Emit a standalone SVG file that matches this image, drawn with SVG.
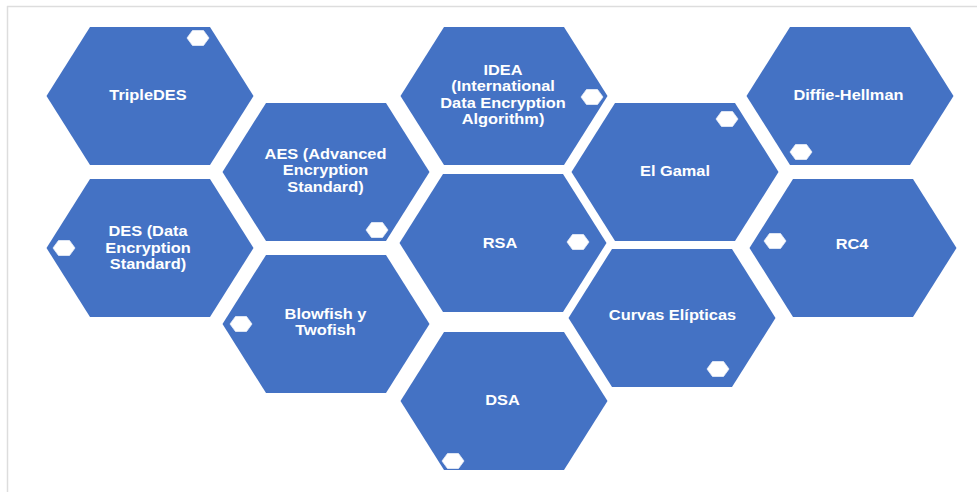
<svg xmlns="http://www.w3.org/2000/svg" xmlns:xlink="http://www.w3.org/1999/xlink" width="977" height="492" viewBox="0 0 977 492">
  <style>
    .hex { fill: #4472C4; }
    .dot { fill: #FFFFFF; stroke: #E8EDF7; stroke-width: 0.8; }
    .t { font-family: "Liberation Sans", Arial, sans-serif; font-weight: bold; font-size: 14px; fill: #FFFFFF; text-anchor: middle; }
    .frame { stroke: #DDDDDD; stroke-width: 1.5; fill: none; }
  </style>
  <defs>
    <polygon id="hex" points="-103.5,0 -60,-69 60,-69 103.5,0 60,69 -60,69"/>
    <polygon id="dot" points="-11,0 -5.5,-7.5 5.5,-7.5 11,0 5.5,7.5 -5.5,7.5"/>
  </defs>
  <rect x="0" y="0" width="977" height="492" fill="#FFFFFF"/>
  <g id="frame">
    <line class="frame" x1="7" y1="6.5" x2="977" y2="6.5"/>
    <line class="frame" x1="7.5" y1="6" x2="7.5" y2="492"/>
  </g>
  <g id="connectors"/>

  <g id="tripledes">
    <use href="#hex" class="hex" x="150" y="96"/>
    <use href="#dot" class="dot" x="198" y="38"/>
    <text class="t" transform="translate(148,100) scale(1.17,1)" x="0" y="0">TripleDES</text>
  </g>

  <g id="des">
    <use href="#hex" class="hex" x="150" y="248"/>
    <use href="#dot" class="dot" x="64" y="248"/>
    <text class="t" transform="translate(148,236) scale(1.17,1)" x="0" y="0"><tspan x="0" dy="0">DES (Data</tspan><tspan x="0" dy="16.7">Encryption</tspan><tspan x="0" dy="16.7">Standard)</tspan></text>
  </g>

  <g id="aes">
    <use href="#hex" class="hex" x="326" y="172"/>
    <use href="#dot" class="dot" x="377" y="230"/>
    <text class="t" transform="translate(325.5,159) scale(1.17,1)" x="0" y="0"><tspan x="0" dy="0">AES (Advanced</tspan><tspan x="0" dy="16.5">Encryption</tspan><tspan x="0" dy="16.5">Standard)</tspan></text>
  </g>

  <g id="blowfish">
    <use href="#hex" class="hex" x="326" y="324"/>
    <use href="#dot" class="dot" x="241" y="324"/>
    <text class="t" transform="translate(325.5,319) scale(1.17,1)" x="0" y="0"><tspan x="0" dy="0">Blowfish y</tspan><tspan x="0" dy="16.5">Twofish</tspan></text>
  </g>

  <g id="idea">
    <use href="#hex" class="hex" x="504" y="96"/>
    <use href="#dot" class="dot" x="592" y="97"/>
    <text class="t" transform="translate(503,75) scale(1.17,1)" x="0" y="0"><tspan x="0" dy="0">IDEA</tspan><tspan x="0" dy="16.3">(International</tspan><tspan x="0" dy="16.3">Data Encryption</tspan><tspan x="0" dy="16.3">Algorithm)</tspan></text>
  </g>

  <g id="rsa">
    <use href="#hex" class="hex" x="503" y="243"/>
    <use href="#dot" class="dot" x="578" y="242"/>
    <text class="t" transform="translate(500,248) scale(1.17,1)" x="0" y="0">RSA</text>
  </g>

  <g id="dsa">
    <use href="#hex" class="hex" x="504" y="401"/>
    <use href="#dot" class="dot" x="453" y="461"/>
    <text class="t" transform="translate(502.5,405) scale(1.17,1)" x="0" y="0">DSA</text>
  </g>

  <g id="elgamal">
    <use href="#hex" class="hex" x="675" y="172"/>
    <use href="#dot" class="dot" x="727" y="119"/>
    <text class="t" transform="translate(675,176) scale(1.17,1)" x="0" y="0">El Gamal</text>
  </g>

  <g id="curvas">
    <use href="#hex" class="hex" x="672" y="318"/>
    <use href="#dot" class="dot" x="718" y="369"/>
    <text class="t" transform="translate(672.5,320) scale(1.17,1)" x="0" y="0">Curvas Elípticas</text>
  </g>

  <g id="diffie">
    <use href="#hex" class="hex" x="850" y="96"/>
    <use href="#dot" class="dot" x="801" y="152"/>
    <text class="t" transform="translate(848.5,100) scale(1.17,1)" x="0" y="0">Diffie-Hellman</text>
  </g>

  <g id="rc4">
    <use href="#hex" class="hex" x="853" y="248"/>
    <use href="#dot" class="dot" x="775" y="241"/>
    <text class="t" transform="translate(852,249) scale(1.17,1)" x="0" y="0">RC4</text>
  </g>
</svg>
